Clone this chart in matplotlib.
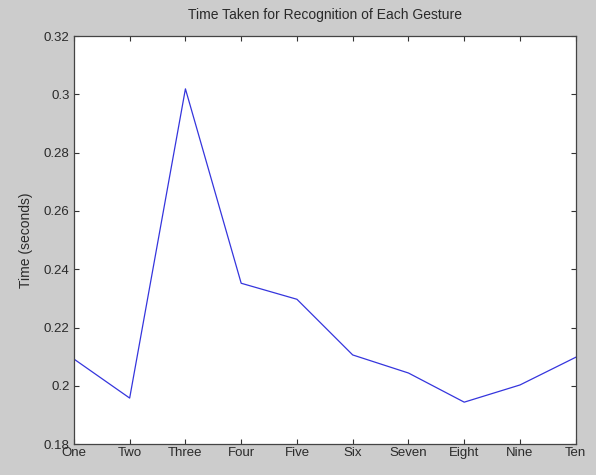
import matplotlib
matplotlib.use("Agg")
import matplotlib.pyplot as plt

# gesture names and recognition times (seconds)
gestures = ["One", "Two", "Three", "Four", "Five", "Six", "Seven", "Eight", "Nine", "Ten"]
times = [0.2092, 0.1958, 0.3019, 0.2352, 0.2297, 0.2106, 0.2044, 0.1944, 0.2003, 0.2098]
y_ticks = [0.18, 0.2, 0.22, 0.24, 0.26, 0.28, 0.3, 0.32]
y_tick_labels = ["0.18", "0.2", "0.22", "0.24", "0.26", "0.28", "0.3", "0.32"]

plt.rcParams["font.family"] = ["Liberation Sans", "DejaVu Sans"]

fig = plt.figure(figsize=(5.96, 4.75), dpi=100, facecolor="#cccccc")
ax = fig.add_axes([0.124, 0.065, 0.842, 0.859])
ax.set_facecolor("white")

x = list(range(1, len(gestures) + 1))
ax.plot(x, times, color="#3535dd", linewidth=0.9)

ax.set_xlim(1, 10)
ax.set_ylim(0.18, 0.32)
ax.set_xticks(x)
ax.set_xticklabels(gestures)
ax.set_yticks(y_ticks)
ax.set_yticklabels(y_tick_labels)

ax.tick_params(direction="in", length=3.5, width=0.8, labelsize=9.5,
               top=True, right=True, color="#333333", labelcolor="#2a2a2a")
ax.tick_params(axis="x", pad=2)
ax.tick_params(axis="y", pad=3)
for s in ax.spines.values():
    s.set_color("#444444")
    s.set_linewidth(0.9)

ax.set_title("Time Taken for Recognition of Each Gesture", fontsize=10, color="#2a2a2a", pad=12)
ax.set_ylabel("Time (seconds)", fontsize=10, color="#2a2a2a", labelpad=8)

fig.savefig("out.png", dpi=100, facecolor=fig.get_facecolor())
